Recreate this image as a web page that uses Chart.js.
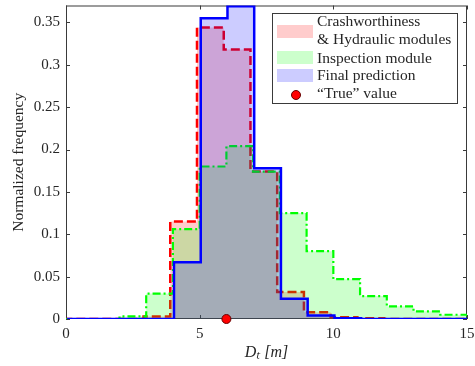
<!DOCTYPE html>
<html><head><meta charset="utf-8">
<script src="https://cdn.jsdelivr.net/npm/chart.js@4.4.0/dist/chart.umd.min.js"></script>
<style>
html,body{margin:0;padding:0;background:#fff;}
#wrap{position:relative;width:475px;height:366px;}
#legend{position:absolute;left:272px;top:13px;width:186px;height:91px;border:1px solid #3a3a3a;background:#fff;box-sizing:border-box;font-family:"Liberation Serif",serif;font-size:15.5px;color:#262626;}
#legend .t{position:absolute;left:44px;line-height:18px;white-space:nowrap;}
#legend .p{position:absolute;left:4px;width:36px;height:13px;}
#legend .d{position:absolute;left:18px;width:8px;height:8px;border-radius:50%;background:#ff0000;border:1px solid #600;}
</style>
</head><body>
<div id="wrap">
<canvas id="c" width="475" height="366"></canvas>
<div id="legend">
  <div class="p" style="top:11px;background:rgba(255,0,0,0.2)"></div>
  <div class="t" style="top:-2px">Crashworthiness</div>
  <div class="t" style="top:16px">&amp; Hydraulic modules</div>
  <div class="p" style="top:37px;background:rgba(0,255,0,0.2)"></div>
  <div class="t" style="top:35px">Inspection module</div>
  <div class="p" style="top:55px;background:rgba(0,0,255,0.2)"></div>
  <div class="t" style="top:52px">Final prediction</div>
  <div class="d" style="top:76px"></div>
  <div class="t" style="top:70px">“True” value</div>
</div>
</div>
<script>
// ---- data ----
const binStarts = [0,1,2,3,4,5,6,7,8,9,10,11,12,13,14];
const binWidth = 1;
const crashValues   = [0,0,0,0.003,0.115,0.344,0.318,0.174,0.032,0.008,0.002,0.001,0,0,0];
const inspectValues = [0,0,0.003,0.030,0.106,0.180,0.204,0.174,0.125,0.080,0.047,0.027,0.015,0.009,0.005];
const finalValues   = [0,0,0,0,0.067,0.355,0.369,0.178,0.024,0.004,0.001,0,0,0,0];
const crashShift = -0.1, inspectShift = 0, finalShift = 0.04;
const trueValueX = [6];
const trueValueY = [0];
const xTickValues = [0,5,10,15];
const yTickValues = [0,0.05,0.1,0.15,0.2,0.25,0.3,0.35];
const yTickLabels = ['0','0.05','0.1','0.15','0.2','0.25','0.3','0.35'];

function stepPoints(starts, vals, shift){
  const pts = [{x:starts[0]+shift, y:0}];
  starts.forEach((s,i)=>pts.push({x:s+shift, y:vals[i]}));
  const end = starts[starts.length-1]+binWidth+shift;
  pts.push({x:end, y:vals[vals.length-1]});
  pts.push({x:end, y:0});
  return pts;
}

const axisColor = '#3a3a3a';
const framePlugin = {
  id:'frame',
  beforeDatasetsDraw(chart){
    const {ctx, chartArea:a, scales} = chart;
    ctx.save();
    ctx.strokeStyle = axisColor; ctx.lineWidth = 1;
    ctx.strokeRect(a.left+0.5, a.top+0.5, a.right-a.left-1, a.bottom-a.top-1);
    ctx.beginPath();
    const L = 4;
    xTickValues.forEach(v=>{
      const px = Math.round(scales.x.getPixelForValue(v))+0.5;
      ctx.moveTo(px, a.bottom); ctx.lineTo(px, a.bottom-L);
      ctx.moveTo(px, a.top); ctx.lineTo(px, a.top+L);
    });
    yTickValues.forEach(v=>{
      const py = Math.round(scales.y.getPixelForValue(v))+0.5;
      ctx.moveTo(a.left, py); ctx.lineTo(a.left+L, py);
      ctx.moveTo(a.right, py); ctx.lineTo(a.right-L, py);
    });
    ctx.stroke();
    ctx.restore();
  }
};

const tickFont = {family:'"Liberation Serif", serif', size:15};
new Chart(document.getElementById('c'), {
  type:'line',
  data:{datasets:[
    {label:'Crashworthiness & Hydraulic modules', data:stepPoints(binStarts, crashValues, crashShift),
     stepped:true, borderColor:'#ff0000', borderWidth:2.5, borderDash:[9,4],
     backgroundColor:'rgba(255,0,0,0.2)', fill:'origin', pointRadius:0, order:3},
    {label:'Inspection module', data:stepPoints(binStarts, inspectValues, inspectShift),
     stepped:true, borderColor:'#00ff00', borderWidth:2.2, borderDash:[8,3,2,3],
     backgroundColor:'rgba(0,255,0,0.2)', fill:'origin', pointRadius:0, order:2},
    {label:'Final prediction', data:stepPoints(binStarts, finalValues, finalShift),
     stepped:true, borderColor:'#0000ff', borderWidth:2.5,
     backgroundColor:'rgba(0,0,255,0.2)', fill:'origin', pointRadius:0, order:1},
    {label:'“True” value', data:trueValueX.map((x,i)=>({x, y:trueValueY[i]})),
     showLine:false, pointRadius:4.5, pointBackgroundColor:'#ff0000', pointBorderColor:'#660000',
     pointBorderWidth:1, clip:false, order:0}
  ]},
  options:{
    responsive:false, animation:false,
    layout:{padding:{top:3, right:8, left:0, bottom:0}},
    plugins:{legend:{display:false}, tooltip:{enabled:false}},
    scales:{
      x:{type:'linear', min:0, max:15,
         grid:{display:false, drawTicks:false},
         border:{display:false},
         afterBuildTicks(s){ s.ticks = xTickValues.map(v=>({value:v})); },
         afterFit(s){ s.height = 47; s.paddingLeft = 0; s.paddingRight = 0; },
         ticks:{font:tickFont, color:'#262626', padding:6, maxRotation:0},
         title:{display:true, text:'Dₜ [m]', font:{family:'"Liberation Serif", serif', size:16, style:'italic'}, color:'#262626', padding:{top:0,bottom:4}}},
      y:{type:'linear', min:0, max:0.37,
         grid:{display:false, drawTicks:false},
         border:{display:false},
         afterBuildTicks(s){ s.ticks = yTickValues.map(v=>({value:v})); },
         afterFit(s){ s.width = 66; s.paddingTop = 0; s.paddingBottom = 0; },
         ticks:{font:tickFont, color:'#262626', padding:6,
                callback:(v,i)=>yTickLabels[i]},
         title:{display:true, text:'Normalized frequency', font:{family:'"Liberation Serif", serif', size:15.5}, color:'#262626', padding:{top:10,bottom:0}}}
    }
  },
  plugins:[framePlugin]
});
</script>
</body></html>
